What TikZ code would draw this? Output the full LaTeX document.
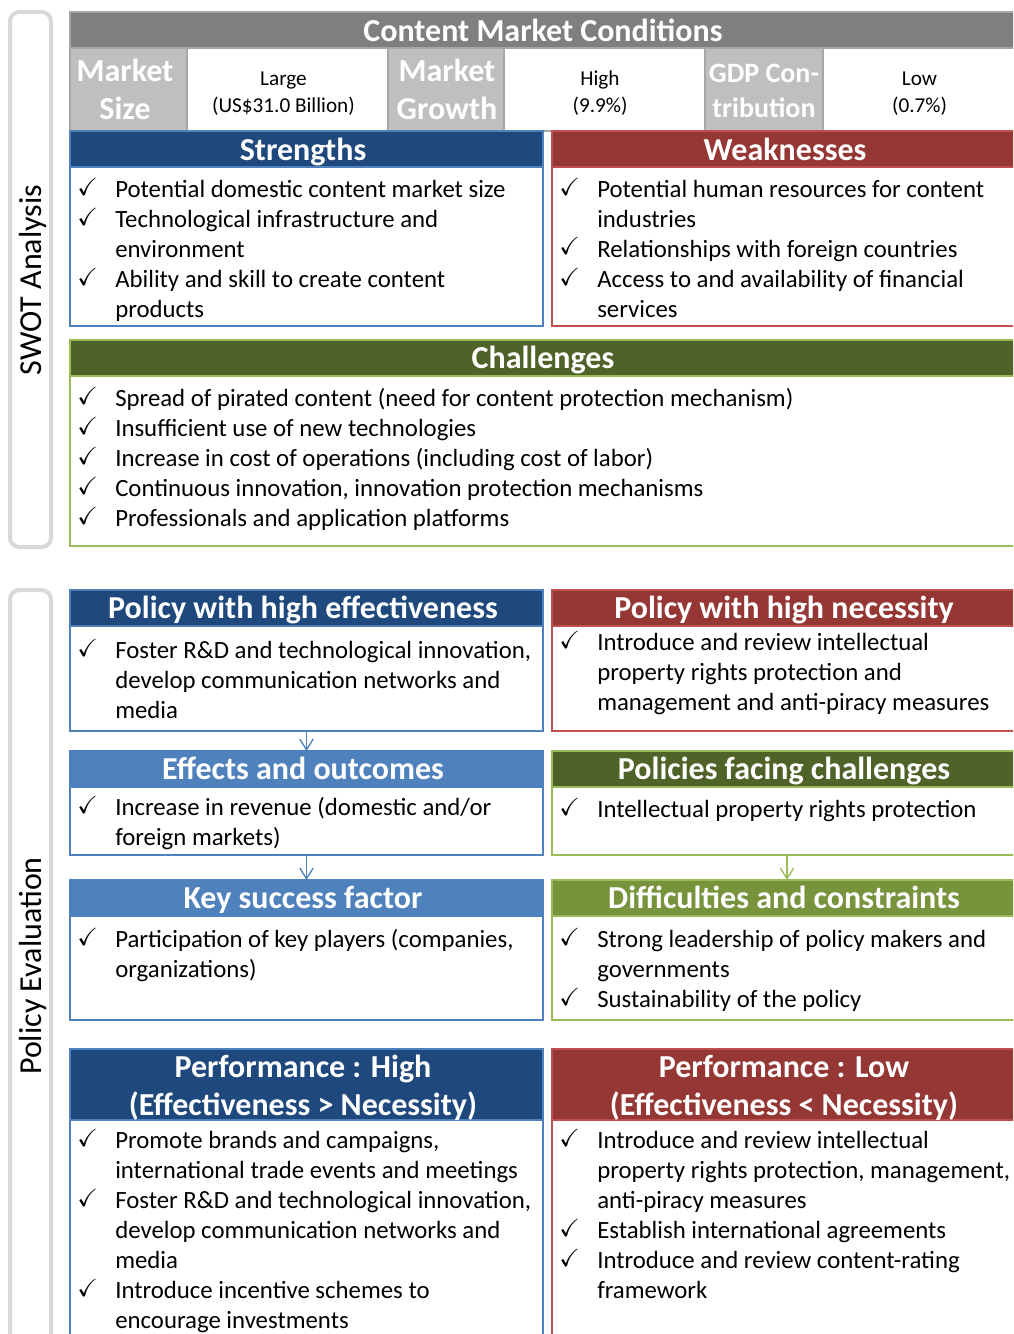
\documentclass[tikz,border=0pt]{standalone}
\usepackage{amssymb}
\usepackage{fontspec}
\setmainfont{Carlito}
\usetikzlibrary{arrows.meta}
\definecolor{dblue}{HTML}{1F497D}
\definecolor{mblue}{HTML}{4F81BD}
\definecolor{dred}{HTML}{953735}
\definecolor{mred}{HTML}{C0504D}
\definecolor{dgreen}{HTML}{4F6228}
\definecolor{mgreen}{HTML}{77933C}
\definecolor{lgreen}{HTML}{9BBB59}
\definecolor{hgray}{HTML}{7F7F7F}
\definecolor{cgray}{HTML}{BFBFBF}
\definecolor{bgray}{HTML}{A6A6A6}
\definecolor{sgray}{HTML}{D9D9D9}
\newcommand\fbody{\fontsize{18.6}{22.5}\selectfont}
\newcommand\fhead{\fontsize{24}{28.5}\selectfont\bfseries}
\newcommand\fval{\fontsize{15.9}{19.5}\selectfont}
\newcommand\fgdp{\fontsize{21}{25.5}\selectfont\bfseries}
\newcommand\fside{\fontsize{24}{28.5}\selectfont}
\newcommand\CK[1]{\hbox{\hbox to 28.5pt{\raise1.5pt\hbox{$\checkmark$}\hss}#1}}
\newcommand\CT[1]{\hbox{\hskip28.5pt #1}}
\newcommand\CL[1]{\hbox to 0pt{\hss #1\hss}}
\newcommand\mybox[6]{\node[#2, minimum width={(#5-#3)*0.75pt}, minimum height={(#6-#4)*0.75pt}] (#1) at ({(#3+#5)/2},{(#4+#6)/2}) {};}
\tikzset{
  boxbase/.style={rectangle, inner sep=0pt, outer sep=0pt, line width=1.3pt},
  sidebox/.style={boxbase, draw=sgray, line width=3pt, rounded corners=7pt, fill=white},
  cellhead/.style={boxbase, draw=bgray, fill=hgray},
  celllab/.style={boxbase, draw=bgray, fill=cgray},
  cellval/.style={boxbase, draw=bgray, fill=white},
  hdtxt/.style={font=\fhead, text=white, anchor=base, inner sep=0pt},
  bodytxt/.style={font=\fbody, anchor=base west, inner sep=0pt},
  valtxt/.style={font=\fval, anchor=base, inner sep=0pt},
  arr/.style={line width=1pt, -{Straight Barb[length=8pt,width=10pt]}},
}
\begin{document}
\begin{tikzpicture}[x=0.75pt,y=-0.75pt]
\useasboundingbox (0,0) rectangle (1013,1334);
\fill[white] (0,0) rectangle (1013,1334);
\clip (0,0) rectangle (1013,1334);
% side frames
\mybox{swotframe}{sidebox}{10}{12}{51}{547}
\node[font=\fside, rotate=90, anchor=base, inner sep=0pt] (swotlab) at (41.5,280) {SWOT Analysis};
\mybox{polframe}{sidebox}{10}{590}{51}{1370}
\node[font=\fside, rotate=90, anchor=base, inner sep=0pt] (pollab) at (41.5,966) {Policy Evaluation};
% market conditions
\mybox{cmc}{cellhead}{70}{12}{1025}{48}
\node[hdtxt] (cmct) at (543,41.5) {Content Market Conditions};
\mybox{msl}{celllab}{70}{48}{187}{131}
\mybox{msv}{cellval}{187}{48}{388}{131}
\mybox{mgl}{celllab}{388}{48}{504}{131}
\mybox{mgv}{cellval}{504}{48}{705}{131}
\mybox{gdl}{celllab}{705}{48}{823}{131}
\mybox{gdv}{cellval}{823}{48}{1025}{131}
\node[hdtxt] (mslt) at (125,81.5) {\vtop{\baselineskip=28.5pt\CL{Market}\CL{Size}}};
\node[hdtxt] (mglt) at (447,81.5) {\vtop{\baselineskip=28.5pt\CL{Market}\CL{Growth}}};
\node[hdtxt, font=\fgdp] (gdlt) at (764,82.5) {\vtop{\baselineskip=26pt\CL{GDP Con-}\CL{tribution}}};
\node[valtxt] (msvt) at (283.5,86) {\vtop{\baselineskip=20pt\CL{Large}\CL{(US\$31.0 Billion)}}};
\node[valtxt] (mgvt) at (600,86) {\vtop{\baselineskip=20pt\CL{High}\CL{(9.9\%)}}};
\node[valtxt] (gdvt) at (919.5,86) {\vtop{\baselineskip=20pt\CL{Low}\CL{(0.7\%)}}};
% strengths
\mybox{sth}{boxbase, draw=mblue, fill=dblue}{70}{131}{543}{167}
\mybox{stb}{boxbase, draw=mblue}{70}{167}{543}{326}
\node[hdtxt] (stt) at (303,160.5) {Strengths};
\node[bodytxt] (stx) at (77,197) {\vtop{\baselineskip=22.5pt
  \CK{Potential domestic content market size}
  \CK{Technological infrastructure and}
  \CT{environment}
  \CK{Ability and skill to create content}
  \CT{products}}};
% weaknesses
\mybox{wkh}{boxbase, draw=mred, fill=dred}{552}{131}{1022}{167}
\mybox{wkb}{boxbase, draw=mred}{552}{167}{1022}{326}
\node[hdtxt] (wkt) at (785,160.5) {Weaknesses};
\node[bodytxt] (wkx) at (559,197) {\vtop{\baselineskip=22.5pt
  \CK{Potential human resources for content}
  \CT{industries}
  \CK{Relationships with foreign countries}
  \CK{Access to and availability of financial}
  \CT{services}}};
% challenges
\mybox{chh}{boxbase, draw=lgreen, fill=dgreen}{70}{340}{1022}{376}
\mybox{chb}{boxbase, draw=lgreen}{70}{376}{1022}{546}
\node[hdtxt] (cht) at (543,368.5) {Challenges};
\node[bodytxt] (chx) at (77,406) {\vtop{\baselineskip=22.5pt
  \CK{Spread of pirated content (need for content protection mechanism)}
  \CK{Insufficient use of new technologies}
  \CK{Increase in cost of operations (including cost of labor)}
  \CK{Continuous innovation, innovation protection mechanisms}
  \CK{Professionals and application platforms}}};
% policy with high effectiveness
\mybox{peh}{boxbase, draw=mblue, fill=dblue}{70}{590}{543}{626}
\mybox{peb}{boxbase, draw=mblue}{70}{626}{543}{731}
\node[hdtxt] (pet) at (303,618.5) {Policy with high effectiveness};
\node[bodytxt] (pex) at (77,658) {\vtop{\baselineskip=22.5pt
  \CK{Foster R\&D and technological innovation,}
  \CT{develop communication networks and}
  \CT{media}}};
% policy with high necessity
\mybox{pnh}{boxbase, draw=mred, fill=dred}{552}{590}{1022}{626}
\mybox{pnb}{boxbase, draw=mred}{552}{626}{1022}{731}
\node[hdtxt] (pnt) at (784,618.5) {Policy with high necessity};
\node[bodytxt] (pnx) at (559,650) {\vtop{\baselineskip=22.5pt
  \CK{Introduce and review intellectual}
  \CT{property rights protection and}
  \CT{management and anti-piracy measures}}};
% effects and outcomes
\mybox{eoh}{boxbase, draw=mblue, fill=mblue}{70}{751}{543}{787}
\mybox{eob}{boxbase, draw=mblue}{70}{787}{543}{855}
\node[hdtxt] (eot) at (303,779) {Effects and outcomes};
\node[bodytxt] (eox) at (77,815) {\vtop{\baselineskip=22.5pt
  \CK{Increase in revenue (domestic and/or}
  \CT{foreign markets)}}};
% policies facing challenges
\mybox{pch}{boxbase, draw=lgreen, fill=dgreen}{552}{751}{1022}{787}
\mybox{pcb}{boxbase, draw=lgreen}{552}{787}{1022}{855}
\node[hdtxt] (pct) at (784,779) {Policies facing challenges};
\node[bodytxt] (pcx) at (559,817) {\vtop{\baselineskip=22.5pt
  \CK{Intellectual property rights protection}}};
% key success factor
\mybox{ksh}{boxbase, draw=mblue, fill=mblue}{70}{880}{543}{916}
\mybox{ksb}{boxbase, draw=mblue}{70}{916}{543}{1020}
\node[hdtxt] (kst) at (303,908.5) {Key success factor};
\node[bodytxt] (ksx) at (77,947) {\vtop{\baselineskip=22.5pt
  \CK{Participation of key players (companies,}
  \CT{organizations)}}};
% difficulties and constraints
\mybox{dch}{boxbase, draw=lgreen, fill=mgreen}{552}{880}{1022}{916}
\mybox{dcb}{boxbase, draw=lgreen}{552}{916}{1022}{1020}
\node[hdtxt] (dct) at (784,908.5) {Difficulties and constraints};
\node[bodytxt] (dcx) at (559,947) {\vtop{\baselineskip=22.5pt
  \CK{Strong leadership of policy makers and}
  \CT{governments}
  \CK{Sustainability of the policy}}};
% performance high
\mybox{phh}{boxbase, draw=mblue, fill=dblue}{70}{1049}{543}{1120}
\mybox{phb}{boxbase, draw=mblue}{70}{1120}{543}{1360}
\node[hdtxt] (pht) at (303,1077) {\vtop{\baselineskip=28.5pt\CL{Performance : High}\CL{(Effectiveness > Necessity)}}};
\node[bodytxt] (phx) at (77,1148) {\vtop{\baselineskip=22.5pt
  \CK{Promote brands and campaigns,}
  \CT{international trade events and meetings}
  \CK{Foster R\&D and technological innovation,}
  \CT{develop communication networks and}
  \CT{media}
  \CK{Introduce incentive schemes to}
  \CT{encourage investments}}};
% performance low
\mybox{plh}{boxbase, draw=mred, fill=dred}{552}{1049}{1022}{1120}
\mybox{plb}{boxbase, draw=mred}{552}{1120}{1022}{1360}
\node[hdtxt] (plt) at (784,1077) {\vtop{\baselineskip=28.5pt\CL{Performance : Low}\CL{(Effectiveness < Necessity)}}};
\node[bodytxt] (plx) at (559,1148) {\vtop{\baselineskip=22.5pt
  \CK{Introduce and review intellectual}
  \CT{property rights protection, management,}
  \CT{anti-piracy measures}
  \CK{Establish international agreements}
  \CK{Introduce and review content-rating}
  \CT{framework}}};
% connectors
\draw[arr, draw=mblue] (peb.south) -- (eoh.north);
\draw[arr, draw=mblue] (eob.south) -- (ksh.north);
\draw[arr, draw=lgreen] (pcb.south) -- (dch.north);
\end{tikzpicture}
\end{document}
